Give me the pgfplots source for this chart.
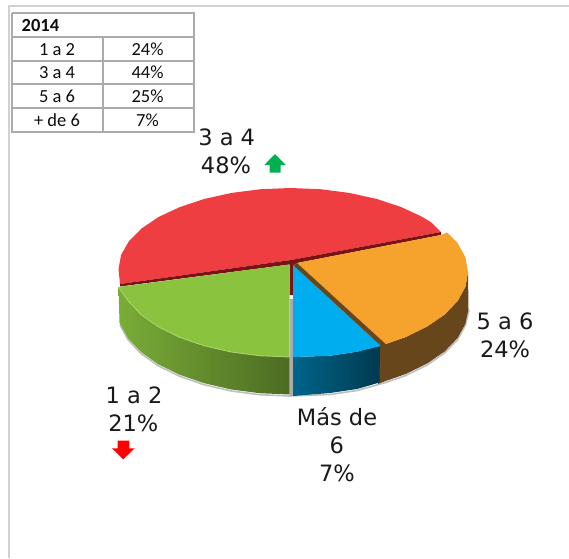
\documentclass[border=0pt]{standalone}
\usepackage{pgfplots}
\pgfplotsset{compat=1.18}
\usepackage{fontspec}
\setmainfont{DejaVu Sans}
\newfontfamily\tablefont{Carlito}
\definecolor{cRed}{HTML}{EE3E42}
\definecolor{cDarkRed}{HTML}{7A1414}
\definecolor{cOrange}{HTML}{F6A32E}
\definecolor{cBrown}{HTML}{66461A}
\definecolor{cBlue}{HTML}{00AEEF}
\definecolor{cGreen}{HTML}{8AC43F}
\definecolor{cGridGray}{HTML}{ABABAB}
\definecolor{cUp}{HTML}{00B050}
\tikzset{
  lab/.style={anchor=base,font=\fontsize{22.5}{24}\selectfont,text=black!90,inner sep=0pt},
  tab/.style={anchor=base,font=\tablefont\fontsize{18.5}{20}\selectfont,text=black!95,inner sep=0pt}
}
\begin{document}
\begin{tikzpicture}
\begin{axis}[
  scale only axis,width=569pt,height=558pt,
  xmin=0,xmax=569,ymin=0,ymax=558,y dir=reverse,
  hide axis,no markers,clip=true]
% frame
\addplot[draw=black!18,line width=2pt] coordinates {(9,558) (9,6) (569,6)};
% soft shadow under the pie
\addplot[draw=black!25,line width=1.6pt] coordinates {(120,325) (128.3,340) (141,353.5) (158.1,365.7) (179.2,376.1) (203.7,384.6) (230.8,390.9) (259.7,394.7) (289.5,396) (330,394.5) (357,390.5) (385.7,382.5) (405.5,375.6) (427,365.1) (444.6,353) (457.5,339.6) (465.4,325.3) (469,310)};
% red top
\addplot[fill=cRed,draw=none] coordinates {(120,284) (118.5,269) (121.1,254.9) (128.9,241.3) (141.5,228.5) (158.7,216.9) (180,207) (204.5,198.9) (231.7,192.9) (260.6,189.2) (290.5,188) (320.4,189.2) (349.3,192.9) (376.5,198.9) (401.1,207) (422.3,216.9) (431.4,222.5) (441,232) (291,260)} -- cycle;
% dark red side walls
\addplot[fill=cDarkRed,draw=none] coordinates {(120,284) (291,260) (441,232) (441,235) (297,263) (293,265) (293,295) (289.5,295) (289.5,264.5) (120,286.5)} -- cycle;
% green side and top
\addplot[draw=none,left color=cGreen!88!black,right color=cGreen!55!black] coordinates {(118.5,287) (128.3,301.1) (141,314.5) (158.1,326.7) (179.2,337.1) (203.7,345.6) (230.8,351.9) (259.7,355.7) (289.5,357) (289.5,394.5) (259.7,393.2) (230.8,389.4) (203.7,383.1) (179.2,374.6) (158.1,364.2) (141,352) (128.3,338.6) (119.5,323)} -- cycle;
\addplot[fill=cGreen,draw=none] coordinates {(118.5,287) (289.5,264.5) (289.5,357) (259.7,355.7) (230.8,351.9) (203.7,345.6) (179.2,337.1) (158.1,326.7) (141,314.5) (128.3,301.1)} -- cycle;
\addplot[draw=cGreen!75!white,line width=0.9pt] coordinates {(118.5,287) (128.3,301.1) (141,314.5) (158.1,326.7) (179.2,337.1) (203.7,345.6) (230.8,351.9) (259.7,355.7) (289.5,357)};
% gray wall
\addplot[fill=cGridGray,draw=none] coordinates {(289.5,299) (293,299) (293,396) (289.5,396)} -- cycle;
% brown side
\addplot[fill=cBrown,draw=none] coordinates {(378,345) (385.7,344) (405.5,337.1) (427,326.6) (444.6,314.5) (457.5,301.1) (465.4,286.8) (468,272) (468.5,309) (465.4,323.8) (457.5,338.1) (444.6,351.5) (427,363.6) (405.5,374.1) (385.7,381) (378,384)} -- cycle;
% blue side and top
\addplot[draw=none,left color=cBlue!58!black,right color=cBlue!33!black] coordinates {(293,357) (330,355.7) (357,351.7) (380,345) (379.5,382.5) (357,389) (330,393) (293,396)} -- cycle;
\addplot[fill=cBlue,draw=none] coordinates {(293,265) (381,346) (357,351.7) (330,355.7) (293,357)} -- cycle;
% orange top
\addplot[fill=cOrange,draw=none] coordinates {(297,263) (441,235) (447,232.5) (457.5,242.9) (465.4,257.2) (468,272) (465.4,286.8) (457.5,301.1) (444.6,314.5) (427,326.6) (405.5,337.1) (385.7,344)} -- cycle;
% brown strip
\addplot[fill=cBrown,draw=none] coordinates {(293,265) (297,263) (385.7,344) (381,346)} -- cycle;
% arrows
\addplot[fill=cUp,draw=none] coordinates {(275,154) (286,165) (280.7,165) (280.7,172.7) (269.5,172.7) (269.5,165) (264.3,165)} -- cycle;
\addplot[fill=red,draw=none] coordinates {(123.3,459.3) (134.7,448.3) (129.3,448.3) (129.3,440.7) (117.7,440.7) (117.7,448.3) (112,448.3)} -- cycle;
% table
\addplot[draw=cGridGray,line width=2pt] coordinates {(11.5,13.3) (193.5,13.3) (193.5,132) (11.5,132) (11.5,13.3)};
\addplot[draw=cGridGray,line width=2pt] coordinates {(11.5,37) (193.5,37)};
\addplot[draw=cGridGray,line width=2pt] coordinates {(11.5,60.5) (193.5,60.5)};
\addplot[draw=cGridGray,line width=2pt] coordinates {(11.5,84) (193.5,84)};
\addplot[draw=cGridGray,line width=2pt] coordinates {(11.5,108) (193.5,108)};
\addplot[draw=cGridGray,line width=2pt] coordinates {(102.5,37) (102.5,132)};
\node[tab,anchor=base west,font=\tablefont\bfseries\fontsize{18.5}{20}\selectfont] at (axis cs:21.5,31.7) {2014};
\node[tab] at (axis cs:57,55) {1 a 2};
\node[tab] at (axis cs:147.5,55) {24\%};
\node[tab] at (axis cs:57,78.5) {3 a 4};
\node[tab] at (axis cs:147.5,78.5) {44\%};
\node[tab] at (axis cs:57,102) {5 a 6};
\node[tab] at (axis cs:147.5,102) {25\%};
\node[tab] at (axis cs:57,126) {+ de 6};
\node[tab] at (axis cs:147.5,126) {7\%};
% labels
\node[lab] at (axis cs:226.7,145) {3 a 4};
\node[lab] at (axis cs:226,173.4) {48\%};
\node[lab] at (axis cs:505,329.5) {5 a 6};
\node[lab] at (axis cs:505,357.5) {24\%};
\node[lab] at (axis cs:134,403.4) {1 a 2};
\node[lab] at (axis cs:133.3,431) {21\%};
\node[lab] at (axis cs:337,425) {Más de};
\node[lab] at (axis cs:336.7,453.4) {6};
\node[lab] at (axis cs:337,481) {7\%};
\end{axis}
\path[use as bounding box] (0,0) rectangle (569pt,558pt);
\end{tikzpicture}
\end{document}
